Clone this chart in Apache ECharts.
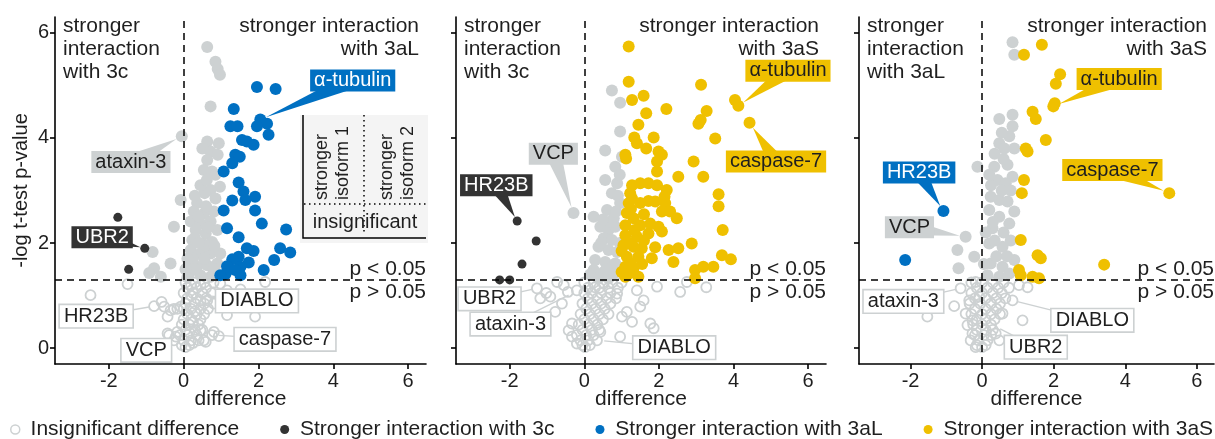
<!DOCTYPE html>
<html>
<head>
<meta charset="utf-8">
<script src="https://cdn.jsdelivr.net/npm/echarts@6.0.0/dist/echarts.min.js"></script>
<style>
  html, body { margin: 0; padding: 0; background: #fff; }
  #chart { width: 1215px; height: 439px; }
</style>
</head>
<body>
<div id="chart"></div>
<script>
// ticks + cut-off
const xTicks = [-2, 0, 2, 4, 6]
const yTicks = [0, 2, 4, 6]
const pCut = 1.301 // -log10(0.05)

// ---- panel 1: 3c vs 3aL ----
const p1Insig = [
  [-1.5,1.22],[-2.49,1.01],[-0.79,0.8],[-0.59,0.88],[-0.52,0.79],[-0.43,0.6],[-0.35,0.72],[-0.26,0.75],
  [-0.17,0.75],[-0.08,0.79],[-0.39,0.25],[-0.17,0.31],[-0.26,0.15],[-0.43,0.28],[-0.21,0.22],[0.98,1.23],
  [1.16,1.1],[1.52,1.12],[2.18,1.26],[0.81,0.85],[1.16,0.63],[1.91,0.6],[0.63,0.91],[0.94,0.23],
  [0.76,0.25],[0.81,0.31],[0.45,0.34],[0.54,0.15],[0.59,0.12],
  [0.05,1.25],[0.3,1.25],[0.55,1.25],[0.8,1.25],[0.1,1.15],[0.35,1.15],[0.6,1.15],[0.2,1.2],[0.45,1.2],
  [0.0,1.05],[0.25,1.05],[0.5,1.05],[0.75,1.05],[0.1,0.95],[0.35,0.95],[0.6,0.95],[0.2,1.0],[0.45,0.9],
  [0.05,0.85],[0.3,0.85],[0.55,0.85],[0.0,0.75],[0.2,0.75],[0.45,0.75],[0.65,0.75],[0.3,0.7],
  [0.1,0.65],[0.35,0.65],[0.55,0.65],[0.0,0.55],[0.2,0.55],[0.45,0.55],[-0.05,0.45],[0.15,0.45],[0.4,0.45],
  [0.05,0.35],[0.3,0.35],[0.5,0.35],[-0.1,0.25],[0.1,0.25],[0.35,0.25],[0.0,0.15],[0.2,0.15],[0.4,0.15],
  [-0.05,0.06],[0.15,0.06],[0.05,0.02],[0.25,0.5],[0.15,0.3],[0.25,0.1]
]
const p1Grey = [
  [0.63,5.73],[0.85,5.45],[0.91,5.31],[0.97,5.2],[0.72,4.6],[-0.05,4.03],[0.63,3.93],[0.94,3.9],[0.5,3.8],
  [0.72,3.74],[0.91,3.68],[0.63,3.58],[0.54,3.39],[0.76,3.36],[0.97,3.07],[0.72,3.01],[0.56,2.95],[-0.08,2.82],
  [0.36,2.76],[0.27,2.6],[0.54,2.56],[0.81,2.6],[0.19,2.41],[0.45,2.37],[0.72,2.41],[-0.26,2.31],[0.32,2.25],
  [0.59,2.18],[0.9,2.25],[0.23,2.06],[0.5,1.99],[0.76,2.02],[-0.83,1.83],[0.19,1.87],[0.45,1.8],[0.72,1.8],
  [0.98,1.8],[-0.35,1.61],[-0.79,1.52],[-0.92,1.43],[-0.61,1.36],[0.14,1.61],[0.36,1.55],[0.63,1.58],[0.9,1.61],
  [0.14,1.42],[0.45,1.39],[0.72,1.36],[0.3,2.9],[0.6,2.7],[0.4,2.5],[0.65,2.3],[0.3,2.1],[0.6,1.95],[0.25,1.7],
  [0.55,1.7],[0.8,1.5],[0.3,1.5],[0.1,1.35],[0.85,2.85],[0.45,3.1],[0.85,3.3],[0.62,3.2],[0.4,2.0],[0.82,1.95],
  [0.1,1.7],[0.05,1.5]
]
const p1Dark = [[-1.76,2.49],[-1.04,1.9],[-1.47,1.5]]
const p1Blue = [
  [1.96,4.97],[2.46,4.93],[1.34,4.55],[2.05,4.35],[2.23,4.27],[1.96,4.22],[1.25,4.22],[1.44,4.22],[2.27,4.06],
  [1.56,3.96],[1.69,3.93],[1.87,3.87],[1.38,3.68],[1.5,3.64],[1.3,3.52],[1.07,3.36],[1.47,3.15],[1.6,2.98],
  [1.91,2.88],[1.3,2.81],[1.07,2.62],[1.91,2.62],[1.65,2.82],[2.09,2.37],[1.16,2.28],[2.74,2.26],[1.47,2.11],
  [1.69,1.9],[1.87,1.85],[2.58,1.9],[2.85,1.82],[1.47,1.74],[1.3,1.69],[1.74,1.63],[2.42,1.68],[1.16,1.56],
  [1.52,1.55],[1.38,1.49],[2.14,1.49],[1.12,1.41],[1.52,1.39],[0.98,1.39]
]
// [text, label x, label y, point x, point y, group]
const p1Labels = [
  ['α-tubulin', 4.52, 5.09, 2.05, 4.35, 'aL'],
  ['ataxin-3', -1.41, 3.54, -0.05, 4.03, 'grey'],
  ['UBR2', -2.18, 2.11, -1.04, 1.9, 'c'],
  ['HR23B', -2.34, 0.61, -0.79, 0.8, 'insig'],
  ['VCP', -1.0, -0.04, -0.1, 0.25, 'insig'],
  ['DIABLO', 1.96, 0.9, 0.6, 1.0, 'insig'],
  ['caspase-7', 2.71, 0.17, 0.8, 0.25, 'insig']
]

// ---- panel 2: 3c vs 3aS ----
const p2Insig = [
  [-0.73,1.26],[-1.02,1.05],[-1.18,0.95],[-0.91,0.98],[-1.27,1.14],[-0.44,1.07],[-0.2,1.1],[-0.78,0.69],
  [-0.33,0.47],[-0.42,0.34],[-0.33,0.22],[-0.2,0.09],[0.29,1.16],[0.52,1.23],[0.88,1.04],[1.41,1.1],
  [1.95,1.17],[2.57,1.07],[2.75,1.26],[3.27,1.16],[1.59,0.91],[1.5,0.79],[1.14,0.69],[1.01,0.6],[1.28,0.5],
  [1.77,0.47],[1.86,0.38],[0.96,0.22],[0.43,0.31],[0.34,0.15],[-0.55,1.2],[-0.6,0.85],
  [0.0,1.25],[0.25,1.25],[0.5,1.25],[0.75,1.25],[1.0,1.25],[0.1,1.15],[0.4,1.15],[0.65,1.15],[0.9,1.15],
  [0.0,1.05],[0.2,1.05],[0.45,1.05],[0.7,1.05],[0.1,0.95],[0.35,0.95],[0.6,0.95],[0.85,0.95],
  [-0.05,0.85],[0.2,0.85],[0.45,0.85],[0.7,0.85],[0.05,0.75],[0.3,0.75],[0.55,0.75],
  [-0.1,0.65],[0.15,0.65],[0.4,0.65],[0.65,0.65],[0.0,0.55],[0.25,0.55],[0.5,0.55],
  [-0.15,0.45],[0.1,0.45],[0.35,0.45],[-0.05,0.35],[0.2,0.35],[0.4,0.35],[-0.2,0.25],[0.05,0.25],[0.25,0.25],
  [-0.1,0.15],[0.1,0.15],[-0.05,0.06],[0.15,0.06],[0.02,0.02]
]
const p2Grey = [
  [0.74,4.9],[0.96,4.67],[0.96,4.12],[0.56,3.76],[1.01,3.64],[0.83,3.45],[0.56,3.2],[0.88,3.14],[0.74,2.95],
  [0.96,2.76],[-0.29,2.57],[0.25,2.5],[0.61,2.63],[0.79,2.47],[0.43,2.31],[0.65,2.25],[0.83,2.31],[0.52,2.09],
  [0.74,2.06],[0.38,1.93],[0.65,1.87],[0.88,1.83],[0.29,1.68],[0.56,1.64],[0.83,1.61],[0.25,1.49],[0.52,1.45],
  [0.79,1.42],[0.38,1.33],[0.65,1.33],[0.9,2.9],[0.95,3.3],[0.7,2.4],[0.45,2.0],[0.6,1.5],[0.15,1.4],
  [0.9,1.55],[0.95,2.0],[0.85,2.6],[0.5,2.45]
]
const p2Dark = [[-1.8,2.42],[-1.29,2.04],[-1.67,1.6],[-2.27,1.3],[-2.0,1.3]]
const p2Yellow = [
  [1.19,5.74],[1.19,5.07],[1.59,4.8],[1.28,4.72],[3.13,5.01],[4.04,4.72],[4.13,4.61],[2.2,4.55],[1.66,4.47],
  [3.28,4.51],[3.12,4.34],[3.06,4.27],[1.45,4.25],[1.86,4.01],[1.34,4.01],[3.51,3.99],[1.41,3.9],[1.66,3.8],
  [1.99,3.74],[2.08,3.68],[1.1,3.68],[1.12,3.61],[1.95,3.55],[1.95,3.36],[2.93,3.55],[2.52,3.26],[3.19,3.26],
  [4.43,4.29],[1.28,3.1],[1.5,3.14],[1.72,3.14],[1.95,3.1],[2.21,3.01],[1.23,2.95],[1.28,2.85],[2.15,2.88],
  [3.6,2.93],[3.6,2.7],[1.19,2.76],[1.5,2.76],[1.72,2.8],[1.9,2.79],[2.17,2.76],[1.14,2.57],[1.32,2.47],
  [2.08,2.6],[2.3,2.6],[2.48,2.47],[1.1,2.34],[1.5,2.34],[1.77,2.37],[1.99,2.31],[2.08,2.22],[3.71,2.25],
  [1.1,2.15],[1.41,2.12],[1.72,2.18],[2.88,1.99],[1.05,1.96],[1.32,1.93],[1.54,1.9],[1.9,1.92],[2.26,1.87],
  [2.52,1.9],[3.69,1.77],[3.93,1.69],[1.14,1.74],[1.45,1.74],[1.81,1.71],[2.39,1.64],[1.1,1.55],[1.32,1.52],
  [2.97,1.49],[3.19,1.55],[3.46,1.55],[2.97,1.33],[1.1,1.36],[1.45,1.36],[1.2,2.0],[1.25,2.65],[1.6,2.55],
  [1.35,2.25],[1.6,2.05],[1.25,1.62],[1.55,1.6],[1.0,1.45],[1.2,1.42],[1.0,1.85]
]
const p2Labels = [
  ['VCP', -0.83, 3.7, -0.29, 2.57, 'grey'],
  ['HR23B', -2.36, 3.1, -1.8, 2.42, 'c'],
  ['α-tubulin', 5.46, 5.28, 4.13, 4.61, 'aS'],
  ['caspase-7', 5.14, 3.55, 4.43, 4.29, 'aS'],
  ['UBR2', -2.54, 0.94, -1.27, 1.14, 'insig'],
  ['ataxin-3', -1.98, 0.46, -0.3, 1.05, 'insig'],
  ['DIABLO', 2.41, 0.01, 0.4, 0.15, 'insig']
]

// ---- panel 3: 3aL vs 3aS ----
const p3Insig = [
  [-0.6,1.14],[-0.18,1.26],[-0.78,0.8],[-1.53,0.6],[-0.36,0.91],[-0.08,0.98],[-0.46,0.66],[-0.27,0.53],
  [-0.41,0.44],[-0.27,0.28],[-0.32,0.15],[-0.18,0.02],[1.13,0.53],[0.85,0.91],[1.27,1.16],[1.03,1.2],
  [0.57,0.66],[0.48,0.15],[0.38,0.28],
  [-0.3,1.25],[0.0,1.25],[0.3,1.25],[0.6,1.25],[-0.15,1.15],[0.15,1.15],[0.45,1.15],[0.75,1.15],
  [-0.3,1.05],[0.0,1.05],[0.3,1.05],[0.55,1.05],[-0.2,0.95],[0.1,0.95],[0.4,0.95],[0.65,0.95],
  [-0.35,0.85],[-0.05,0.85],[0.25,0.85],[0.5,0.85],[-0.2,0.75],[0.1,0.75],[0.4,0.75],
  [-0.3,0.65],[0.0,0.65],[0.25,0.65],[0.5,0.65],[-0.15,0.55],[0.1,0.55],[0.35,0.55],
  [-0.25,0.45],[0.0,0.45],[0.25,0.45],[-0.15,0.35],[0.1,0.35],[0.3,0.35],[-0.2,0.25],[0.05,0.25],[0.25,0.25],
  [-0.1,0.15],[0.15,0.15],[-0.15,0.06],[0.1,0.06],[0.0,0.02]
]
const p3Grey = [
  [0.85,5.82],[0.9,5.58],[0.48,4.36],[0.85,4.44],[0.85,4.22],[0.76,4.03],[0.48,3.9],[0.62,3.8],[0.9,3.8],
  [-0.13,3.45],[0.34,3.45],[0.71,3.49],[0.85,3.26],[0.43,3.2],[0.66,3.14],[0.24,2.88],[0.48,2.82],[0.71,2.79],
  [0.2,2.63],[0.9,2.6],[0.48,2.5],[0.76,2.37],[0.29,2.28],[-0.46,2.12],[-0.69,1.87],[-0.22,1.74],[-0.66,1.52],
  [0.2,1.99],[0.57,1.93],[0.9,1.68],[0.24,1.61],[0.57,1.55],[0.15,1.39],[0.48,1.36],[0.76,1.42],[0.55,4.1],
  [0.35,3.7],[0.6,3.6],[0.25,3.1],[0.55,3.0],[0.3,2.4],[0.6,2.2],[0.8,2.05],[0.4,1.75],[0.7,1.75],[0.1,2.2],
  [0.05,1.6],[0.35,2.05],[0.8,3.0],[0.2,3.3]
]
const p3Blue = [[-1.08,2.61],[-2.15,1.68]]
const p3Yellow = [
  [1.67,5.77],[1.17,5.58],[2.18,5.21],[2.06,5.03],[1.41,4.5],[1.5,4.36],[1.99,4.6],[2.03,4.66],[1.78,3.96],
  [1.22,3.8],[1.27,3.74],[1.17,3.2],[1.11,2.95],[1.08,2.06],[1.55,1.77],[1.64,1.71],[1.03,1.49],[1.08,1.39],
  [1.41,1.36],[1.59,1.33],[5.23,2.95],[3.41,1.59]
]
const p3Labels = [
  ['α-tubulin', 3.83, 5.12, 1.99, 4.6, 'aS'],
  ['caspase-7', 3.64, 3.39, 5.23, 2.95, 'aS'],
  ['HR23B', -1.76, 3.34, -1.08, 2.61, 'aL'],
  ['VCP', -2.03, 2.3, -0.46, 2.12, 'grey'],
  ['ataxin-3', -2.2, 0.89, -0.6, 1.14, 'insig'],
  ['DIABLO', 3.08, 0.53, 0.85, 0.91, 'insig'],
  ['UBR2', 1.5, 0.02, 0.38, 0.41, 'insig']
]

const NAMES = {
  insig: 'Insignificant difference',
  grey: 'significant, small difference',
  c: 'Stronger interaction with 3c',
  aL: 'Stronger interaction with 3aL',
  aS: 'Stronger interaction with 3aS'
}

const FONT = '"Liberation Sans", Arial, Helvetica, sans-serif'
const INK = '#1F1F1F'
const GREY = '#CDD1D2'
const COLORS = { insig: GREY, grey: GREY, c: '#333333', aL: '#0070C2', aS: '#EFC000' }
const TEXT_ON = { insig: INK, grey: INK, c: '#ffffff', aL: '#ffffff', aS: INK }
const SIZES = { insig: 10, grey: 12, c: 9, aL: 12, aS: 12 }

const panels = [
  { left: 55, width: 371, groups: [['insig', p1Insig], ['grey', p1Grey], ['c', p1Dark], ['aL', p1Blue]],
    labels: p1Labels, noteL: 'stronger\ninteraction\nwith 3c', noteR: 'stronger interaction\nwith 3aL' },
  { left: 456, width: 370, groups: [['insig', p2Insig], ['grey', p2Grey], ['c', p2Dark], ['aS', p2Yellow]],
    labels: p2Labels, noteL: 'stronger\ninteraction\nwith 3c', noteR: 'stronger interaction\nwith 3aS' },
  { left: 859, width: 355, groups: [['insig', p3Insig], ['grey', p3Grey], ['aL', p3Blue], ['aS', p3Yellow]],
    labels: p3Labels, noteL: 'stronger\ninteraction\nwith 3aL', noteR: 'stronger interaction\nwith 3aS' }
]

function dots(key, data, i) {
  const hollow = key === 'insig'
  const s = {
    type: 'scatter', name: NAMES[key], data: data, xAxisIndex: i, yAxisIndex: i,
    symbol: 'circle', symbolSize: SIZES[key], z: hollow ? 2 : 3, silent: true,
    itemStyle: hollow
      ? { color: 'rgba(255,255,255,0)', borderColor: GREY, borderWidth: 1.8, opacity: 1 }
      : { color: COLORS[key], opacity: 1 },
    emphasis: { disabled: true }
  }
  if (hollow) {
    s.markLine = {
      silent: true, symbol: 'none', animation: false,
      label: { show: false },
      lineStyle: { color: '#000', type: [7, 5], width: 1.5 },
      data: [{ yAxis: pCut }, { xAxis: 0 }]
    }
  }
  return s
}

function labelSeries(items, i) {
  return {
    type: 'custom', xAxisIndex: i, yAxisIndex: i, z: 6, silent: true, clip: false,
    data: items.map(d => [d[1], d[2], d[3], d[4]]),
    renderItem(params, api) {
      const d = items[params.dataIndex]
      const key = d[5]
      const a = api.coord([api.value(0), api.value(1)])
      const p = api.coord([api.value(2), api.value(3)])
      const dx = p[0] - a[0], dy = p[1] - a[1]
      const len = Math.hypot(dx, dy) || 1
      const r = SIZES[key] / 2
      const tip = [p[0] - dx / len * r, p[1] - dy / len * r]
      const boxed = key !== 'insig'
      const children = []
      if (boxed) {
        const nx = -dy / len * 8, ny = dx / len * 8
        children.push({
          type: 'polygon',
          shape: { points: [[a[0] + nx, a[1] + ny], [a[0] - nx, a[1] - ny], tip] },
          style: { fill: COLORS[key] }
        })
      } else {
        children.push({
          type: 'line',
          shape: { x1: a[0], y1: a[1], x2: tip[0], y2: tip[1] },
          style: { stroke: GREY, lineWidth: 1.4 }
        })
      }
      children.push({
        type: 'text', x: a[0], y: a[1],
        style: {
          text: d[0], font: '20px ' + FONT, fill: TEXT_ON[key],
          align: 'center', verticalAlign: 'middle',
          backgroundColor: boxed ? COLORS[key] : '#ffffff',
          borderColor: boxed ? COLORS[key] : GREY, borderWidth: boxed ? 0 : 1.6,
          padding: [2, 4, 0, 4]
        }
      })
      return { type: 'group', children }
    }
  }
}

const grid = [], xAxis = [], yAxis = [], series = [], graphic = []
panels.forEach((p, i) => {
  grid.push({ left: p.left, top: 17, width: p.width, height: 347 })
  xAxis.push({
    gridIndex: i, type: 'value', min: -3.44, max: 6.48,
    name: 'difference', nameLocation: 'middle', nameGap: 25, nameMoveOverlap: false,
    nameTextStyle: { fontFamily: FONT, fontSize: 21, color: INK },
    axisLine: { onZero: false, lineStyle: { color: '#000', width: 1.6 } },
    axisTick: { customValues: xTicks, length: 5, lineStyle: { color: '#000', width: 1.6 } },
    axisLabel: { customValues: xTicks, margin: 7, fontFamily: FONT, fontSize: 20, color: INK },
    splitLine: { show: false }
  })
  yAxis.push({
    gridIndex: i, type: 'value', min: -0.3, max: 6.3,
    name: i === 0 ? '-log t-test p-value' : '', nameLocation: 'middle', nameGap: 24, nameMoveOverlap: false,
    nameTextStyle: { fontFamily: FONT, fontSize: 20, color: INK },
    axisLine: { show: true, onZero: false, lineStyle: { color: '#000', width: 1.6 } },
    axisTick: { show: true, customValues: yTicks, length: 5, lineStyle: { color: '#000', width: 1.6 } },
    axisLabel: { show: i === 0, customValues: yTicks, margin: 6, fontFamily: FONT, fontSize: 20, color: INK },
    splitLine: { show: false }
  })
  p.groups.forEach(([key, data]) => series.push(dots(key, data, i)))
  series.push(labelSeries(p.labels, i))

  const right = p.left + p.width
  const txt = { font: '21px ' + FONT, fill: INK, lineHeight: 23 }
  graphic.push({ type: 'text', x: p.left + 8, y: 15, z: 10, style: Object.assign({ text: p.noteL, align: 'left', verticalAlign: 'top' }, txt) })
  graphic.push({ type: 'text', x: right - 7, y: 15, z: 10, style: Object.assign({ text: p.noteR, align: 'right', verticalAlign: 'top' }, txt) })
  graphic.push({ type: 'text', x: right, y: 269, z: 10, style: Object.assign({ text: 'p < 0.05', align: 'right', verticalAlign: 'middle' }, txt) })
  graphic.push({ type: 'text', x: right, y: 292, z: 10, style: Object.assign({ text: 'p > 0.05', align: 'right', verticalAlign: 'middle' }, txt) })
})

// key box inside the first panel
const dotted = { stroke: '#000', lineWidth: 1.5, lineDash: [1.5, 3.5] }
const keyFont = '18px ' + FONT
graphic.push(
  { type: 'rect', z: 9, shape: { x: 300, y: 115, width: 128, height: 128 }, style: { fill: '#F4F4F4' } },
  { type: 'polyline', z: 10, shape: { points: [[303, 115], [303, 238], [426, 238]] }, style: { stroke: '#000', lineWidth: 1.5, fill: null } },
  { type: 'line', z: 10, shape: { x1: 364, y1: 115, x2: 364, y2: 233 }, style: dotted },
  { type: 'line', z: 10, shape: { x1: 304, y1: 204, x2: 428, y2: 204 }, style: dotted },
  { type: 'text', z: 10, x: 322, y: 200, rotation: Math.PI / 2, style: { text: 'stronger', font: keyFont, fill: INK, align: 'left', verticalAlign: 'middle' } },
  { type: 'text', z: 10, x: 343, y: 200, rotation: Math.PI / 2, style: { text: 'isoform 1', font: keyFont, fill: INK, align: 'left', verticalAlign: 'middle' } },
  { type: 'text', z: 10, x: 387, y: 200, rotation: Math.PI / 2, style: { text: 'stronger', font: keyFont, fill: INK, align: 'left', verticalAlign: 'middle' } },
  { type: 'text', z: 10, x: 408, y: 200, rotation: Math.PI / 2, style: { text: 'isoform 2', font: keyFont, fill: INK, align: 'left', verticalAlign: 'middle' } },
  { type: 'text', z: 10, x: 365, y: 222, style: { text: 'insignificant', font: '20px ' + FONT, fill: INK, align: 'center', verticalAlign: 'middle' } }
)

const chart = echarts.init(document.getElementById('chart'))
chart.setOption({
  animation: false,
  backgroundColor: '#ffffff',
  grid, xAxis, yAxis, series, graphic,
  legend: {
    data: [
      { name: NAMES.insig, itemStyle: { color: '#ffffff', borderColor: GREY, borderWidth: 1.5 } },
      { name: NAMES.c }, { name: NAMES.aL }, { name: NAMES.aS }
    ],
    left: 10, top: 419, itemGap: 41, itemWidth: 9, itemHeight: 9, icon: 'circle',
    selectedMode: false, padding: 0,
    formatter: name => ' ' + name,
    textStyle: { fontFamily: FONT, fontSize: 21, color: INK }
  }
})
</script>
</body>
</html>
